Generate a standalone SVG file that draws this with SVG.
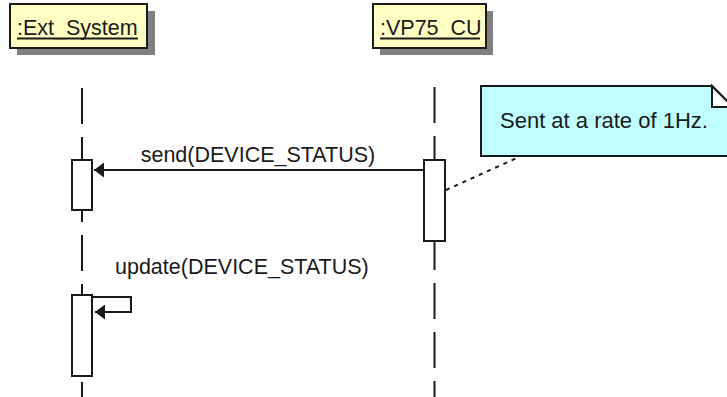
<svg xmlns="http://www.w3.org/2000/svg" width="727" height="397" viewBox="0 0 727 397">
  <style>
    .lbl { font-family: "Liberation Sans", Arial, sans-serif; font-size: 21.5px; fill: #1a1a1a; }
    .obj { fill: #ffffc4; stroke: #1a1a1a; stroke-width: 2; }
    .shadow { fill: #808080; }
    .life { stroke: #1a1a1a; stroke-width: 2; stroke-dasharray: 36 13; fill: none; }
    .act { fill: #ffffff; stroke: #1a1a1a; stroke-width: 2; }
    .msg { stroke: #1a1a1a; stroke-width: 2; fill: none; }
    .ul { stroke: #1a1a1a; stroke-width: 2; }
  </style>
  <defs>
    <marker id="head" markerWidth="11" markerHeight="15" refX="10" refY="7.5" orient="auto" markerUnits="userSpaceOnUse">
      <path d="M0,0 L10,7.5 L0,15 Z" fill="#1a1a1a"/>
    </marker>
  </defs>
  <rect width="727" height="397" fill="#ffffff"/>

  <!-- lifelines (behind activations) -->
  <g id="lifelines">
    <line class="life" x1="82" y1="88" x2="82" y2="397"/>
    <line class="life" x1="434.5" y1="87" x2="434.5" y2="397"/>
  </g>

  <g id="ext_system">
    <rect class="shadow" x="17" y="11" width="138" height="44"/>
    <rect class="obj" x="10" y="4" width="137" height="44"/>
    <text class="lbl" x="17" y="35">:Ext_System</text>
    <line class="ul" x1="17" y1="38.5" x2="138" y2="38.5"/>
  </g>

  <g id="vp75_cu">
    <rect class="shadow" x="380" y="11" width="113" height="44"/>
    <rect class="obj" x="373" y="4" width="113" height="44"/>
    <text class="lbl" x="380" y="35">:VP75_CU</text>
    <line class="ul" x1="380" y1="38.5" x2="480" y2="38.5"/>
  </g>

  <g id="activations">
    <rect class="act" x="72" y="160" width="20" height="50"/>
    <rect class="act" x="424" y="160" width="21" height="81"/>
    <rect class="act" x="72" y="295" width="20" height="81"/>
  </g>

  <g id="note">
    <path d="M481,86 L712,86 L733,107 L733,156 L481,156 Z" fill="#c0ffff" stroke="#1a1a1a" stroke-width="2"/>
    <path d="M712,86 L712,107 L733,107 Z" fill="#ffffff" stroke="#1a1a1a" stroke-width="2" stroke-linejoin="miter"/>
    <text class="lbl" x="500" y="128" style="font-size:22px">Sent at a rate of 1Hz.</text>
  </g>

  <g id="connectors">
    <line class="msg" x1="424" y1="170" x2="94" y2="170" marker-end="url(#head)"/>
    <text class="lbl" x="258" y="162" text-anchor="middle">send(DEVICE_STATUS)</text>
    <path class="msg" d="M93,297 L131,297 L131,312 L95,312" marker-end="url(#head)"/>
    <text class="lbl" x="115" y="274">update(DEVICE_STATUS)</text>
    <line x1="446" y1="190" x2="519" y2="157" stroke="#1a1a1a" stroke-width="2" stroke-dasharray="4 5"/>
  </g>
</svg>
